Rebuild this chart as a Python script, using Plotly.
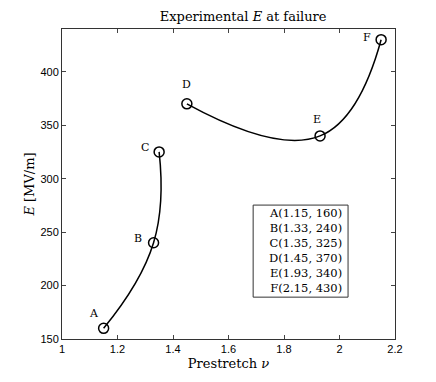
import plotly.graph_objects as go

# Experimental breakdown field vs prestretch
labels = ['A', 'B', 'C', 'D', 'E', 'F']
prestretch = [1.15, 1.33, 1.35, 1.45, 1.93, 2.15]
field = [160, 240, 325, 370, 340, 430]

# label offsets in pixels (x, y)
label_shift = [(-10, 15), (-16, 4), (-14, 4), (0, 19), (-3, 16), (-14, 2)]

serif = 'DejaVu Serif'
sans = 'Liberation Sans'

fig = go.Figure()

# two branches, each drawn as a smooth curve through its points
for idx in [[0, 1, 2], [3, 4, 5]]:
    fig.add_trace(go.Scatter(
        x=[prestretch[i] for i in idx],
        y=[field[i] for i in idx],
        mode='lines',
        line=dict(color='black', width=1.5, shape='spline', smoothing=1.3),
        hoverinfo='skip'
    ))

fig.add_trace(go.Scatter(
    x=prestretch, y=field,
    mode='markers',
    marker=dict(symbol='circle-open', size=10, color='black', line=dict(width=1.5)),
    text=labels
))

for lab, xv, yv, (dx, dy) in zip(labels, prestretch, field, label_shift):
    fig.add_annotation(x=xv, y=yv, text=lab, showarrow=False,
                       xshift=dx, yshift=dy,
                       font=dict(family=serif, size=11, color='black'))

# coordinate list inside a framed box
box_text = '<br>'.join(f'{l}({x:.2f}, {y})' for l, x, y in zip(labels, prestretch, field))
fig.add_shape(type='rect', xref='paper', yref='paper',
              x0=0.574, x1=0.859, y0=0.135, y1=0.432,
              line=dict(color='#333', width=1), fillcolor='white')
fig.add_annotation(xref='paper', yref='paper', x=0.846, y=0.284,
                   xanchor='right', yanchor='middle',
                   text=box_text, align='right', showarrow=False,
                   font=dict(family=serif, size=11.5, color='black'))

fig.update_layout(
    width=420, height=366,
    margin=dict(l=54, r=33, t=21, b=35),
    plot_bgcolor='white', paper_bgcolor='white',
    showlegend=False,
    title=dict(text='Experimental <i>E</i> at failure', x=0.544, xref='paper',
               y=1, yref='paper', yanchor='bottom', pad=dict(b=8),
               font=dict(family=serif, size=13, color='black')),
    xaxis=dict(range=[1, 2.2], tickvals=[1, 1.2, 1.4, 1.6, 1.8, 2, 2.2],
               ticktext=['1', '1.2', '1.4', '1.6', '1.8', '2', '2.2'],
               ticks='inside', ticklen=4, mirror='ticks', showline=True,
               linecolor='#333', linewidth=1, showgrid=False, zeroline=False,
               automargin=False,
               tickfont=dict(family=sans, size=11, color='black'),
               title=dict(text='Prestretch <i>ν</i>', standoff=4,
                          font=dict(family=serif, size=13, color='black'))),
    yaxis=dict(range=[150, 440], tickvals=[150, 200, 250, 300, 350, 400],
               ticks='inside', ticklen=4, mirror='ticks', showline=True,
               linecolor='#333', linewidth=1, showgrid=False, zeroline=False,
               automargin=False,
               tickfont=dict(family=sans, size=11, color='black'),
               title=dict(text='<i>E</i> [MV/m]', standoff=2,
                          font=dict(family=serif, size=13, color='black')))
)

fig.write_html("out.html")
